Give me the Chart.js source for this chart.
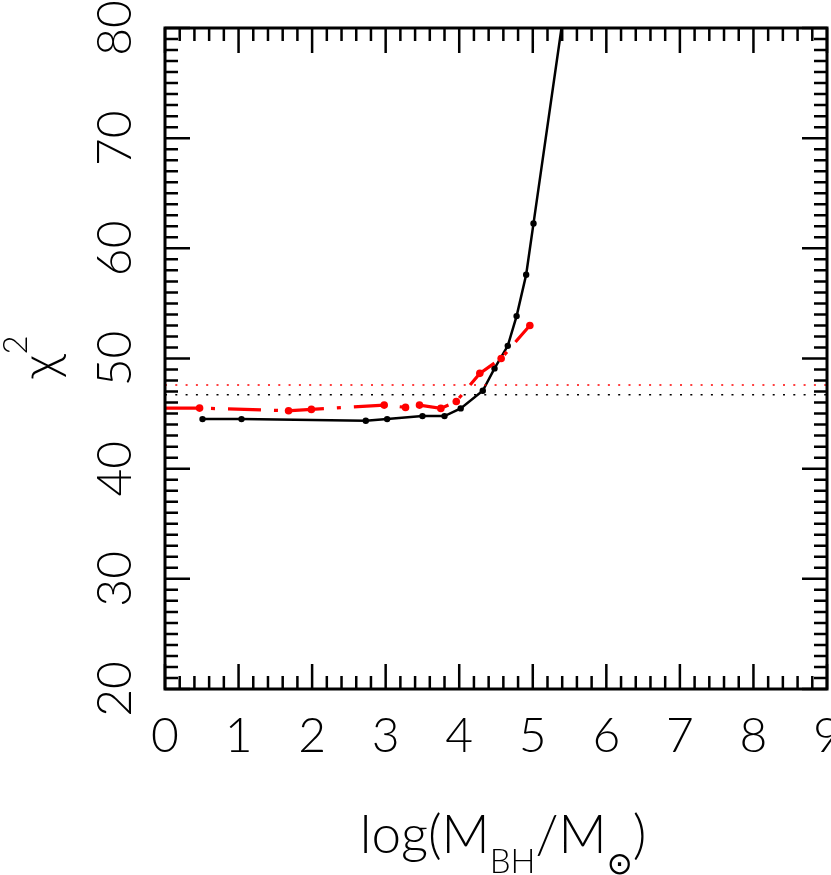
<!DOCTYPE html>
<html>
<head>
<meta charset="utf-8">
<script src="https://cdn.jsdelivr.net/npm/chart.js@4.4.0/dist/chart.umd.min.js"></script>
<style>html, body { margin: 0; padding: 0; background: #fff; }</style>
</head>
<body>
<canvas id="chi2" width="831" height="875"></canvas>
<script>
// black curve
const massBlack = [0.51, 1.04, 2.73, 3.02, 3.50, 3.80, 4.02, 4.32, 4.48, 4.66, 4.78, 4.91, 5.01, 5.50];
const chi2Black = [44.5, 44.5, 44.35, 44.5, 44.77, 44.77, 45.47, 47.07, 49.1, 51.15, 53.85, 57.6, 62.26, 85.1];

// red curve (first value sits on the axis, no marker)
const massRed = [0, 0.47, 1.68, 1.99, 2.98, 3.27, 3.46, 3.75, 3.96, 4.28, 4.57, 4.96];
const chi2Red = [45.5, 45.5, 45.26, 45.38, 45.77, 45.56, 45.77, 45.47, 46.1, 48.65, 50.0, 53.0];

// horizontal reference levels
const levelBlack = 46.7;
const levelRed = 47.6;

const xTickLabels = ['0', '1', '2', '3', '4', '5', '6', '7', '8', '9'];
const yTickLabels = ['20', '30', '40', '50', '60', '70', '80'];

const FONT = 'Lato, "DejaVu Sans", sans-serif';

const toPoints = (xs, ys) => xs.map((x, i) => ({ x: x, y: ys[i] }));

// inward ticks on all four sides, tick labels and axis titles
const axesPlugin = {
    id: 'axes',
    afterDraw(chart) {
        const { ctx, chartArea: a } = chart;
        const sx = chart.scales.x, sy = chart.scales.y;
        ctx.save();
        ctx.strokeStyle = '#000';
        ctx.fillStyle = '#000';
        ctx.lineWidth = 3;
        ctx.strokeRect(a.left, a.top, a.right - a.left, a.bottom - a.top);

        ctx.lineWidth = 2.5;
        ctx.beginPath();
        for (let i = 0; i <= 45; i++) {
            const px = sx.getPixelForValue(i / 5);
            const len = i % 5 === 0 ? 25 : 13;
            ctx.moveTo(px, a.bottom); ctx.lineTo(px, a.bottom - len);
            ctx.moveTo(px, a.top); ctx.lineTo(px, a.top + len);
        }
        for (let v = 20; v <= 80; v++) {
            const py = sy.getPixelForValue(v);
            const len = v % 10 === 0 ? 25 : 13;
            ctx.moveTo(a.left, py); ctx.lineTo(a.left + len, py);
            ctx.moveTo(a.right, py); ctx.lineTo(a.right - len, py);
        }
        ctx.stroke();

        ctx.font = '300 48px ' + FONT;
        ctx.textAlign = 'center';
        ctx.textBaseline = 'alphabetic';
        xTickLabels.forEach(t => {
            ctx.fillText(t, sx.getPixelForValue(+t), 752);
        });
        yTickLabels.forEach(t => {
            ctx.save();
            ctx.translate(131, sy.getPixelForValue(+t));
            ctx.rotate(-Math.PI / 2);
            ctx.fillText(t, 0, 0);
            ctx.restore();
        });

        // x title: log(M_BH/M_sun)
        const big = '300 53px ' + FONT, small = '300 33px ' + FONT;
        const parts = [
            ['log(M', big, 0], ['BH', small, 20], ['/M', big, 0], ['\u2299', '31px "DejaVu Sans"', 21], [')', big, 0]
        ];
        let w = 0;
        parts.forEach(p => { ctx.font = p[1]; w += ctx.measureText(p[0]).width; });
        let cx = 503 - w / 2;
        ctx.textAlign = 'left';
        parts.forEach(p => {
            ctx.font = p[1];
            ctx.fillText(p[0], cx, 853 + p[2]);
            cx += ctx.measureText(p[0]).width;
        });

        // y title: chi^2, rotated
        ctx.save();
        ctx.translate(57, 357);
        ctx.rotate(-Math.PI / 2);
        ctx.font = '300 52px ' + FONT;
        const cw = ctx.measureText('\u03c7').width;
        ctx.font = small;
        const sw = ctx.measureText('2').width;
        const tx = -(cw + sw) / 2;
        ctx.font = '300 52px ' + FONT;
        ctx.fillText('\u03c7', tx, 0);
        ctx.font = small;
        ctx.fillText('2', tx + cw, -30);
        ctx.restore();

        ctx.restore();
    }
};

new Chart(document.getElementById('chi2'), {
    type: 'scatter',
    data: {
        datasets: [
            {
                data: [{ x: 0, y: levelRed }, { x: 9, y: levelRed }],
                showLine: true, borderColor: '#ff0000', borderWidth: 1.5,
                borderDash: [2, 8.3], pointRadius: 0
            },
            {
                data: [{ x: 0, y: levelBlack }, { x: 9, y: levelBlack }],
                showLine: true, borderColor: '#000000', borderWidth: 1.5,
                borderDash: [2, 8.3], pointRadius: 0
            },
            {
                data: toPoints(massRed, chi2Red),
                showLine: true, borderColor: '#ff0000', backgroundColor: '#ff0000',
                borderWidth: 3.2, borderDash: [33, 13, 4, 13],
                pointRadius: massRed.map((m, i) => i === 0 ? 0 : 3.8), pointBorderWidth: 0
            },
            {
                data: toPoints(massBlack, chi2Black),
                showLine: true, borderColor: '#000000', backgroundColor: '#000000',
                borderWidth: 2.5, pointRadius: 3.2, pointBorderWidth: 0
            }
        ]
    },
    options: {
        responsive: false,
        animation: false,
        layout: { padding: { left: 165, top: 28, right: 4, bottom: 186 } },
        plugins: { legend: { display: false }, tooltip: { enabled: false } },
        scales: {
            x: { type: 'linear', min: 0, max: 9, display: false },
            y: { type: 'linear', min: 20, max: 80, display: false }
        }
    },
    plugins: [axesPlugin]
});
</script>
</body>
</html>
